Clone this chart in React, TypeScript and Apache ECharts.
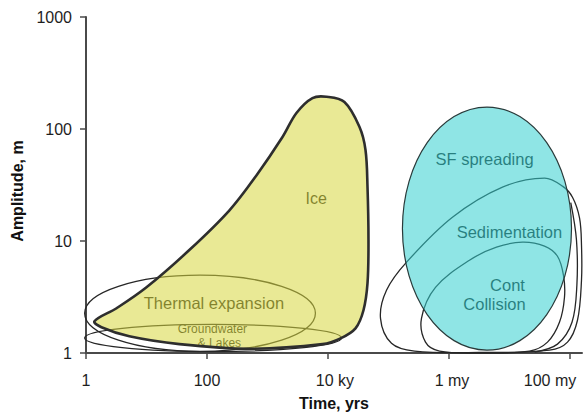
import React, { useEffect, useRef } from 'react';
import * as echarts from 'echarts';

// ---- axis ticks (raw units) ----
const xTickYears = [1, 100, 1e4, 1e6, 1e8];
const xTickLabels = ['1', '100', '10 ky', '1 my', '100 my'];
const yTickMetres = [1, 10, 100, 1000];
const yTickLabels = ['1', '10', '100', '1000'];
const xMaxYears = 1.58e8;
const yMaxMetres = 1000;

// ---- region outlines: [years, metres] ----
const iceOutline: [number, number][] = [
  [1.38, 1.92], [3.2, 2.51], [10, 3.86], [51, 8.3], [235, 18.8], [660, 38.7],
  [1770, 84.8], [3010, 139], [5540, 189], [9440, 194], [18700, 174], [33200, 104],
  [41700, 64.9], [45000, 30.3], [46700, 10.1], [45000, 4.2], [38600, 2.41],
  [28500, 1.66], [16100, 1.35], [8110, 1.2], [504, 1.09], [35, 1.2], [5.2, 1.41], [1.8, 1.7],
];
const sedimentationOutline: [number, number][] = [
  [3.79e7, 36.4], [7.52e7, 30.9], [1.1e8, 24.6], [1.44e8, 16.0], [1.55e8, 9.17],
  [1.55e8, 4.46], [1.33e8, 1.96], [9.1e7, 1.25], [4.59e7, 1.06], [3.19e6, 1.01],
  [2.69e5, 1.04], [1.12e5, 1.22], [7.38e4, 2.04], [9.27e4, 3.63], [1.99e5, 6.47],
  [1.14e6, 16.3], [7.66e6, 30.3],
];
const contCollisionOutline: [number, number][] = [
  [1.64e7, 9.76], [3.79e7, 9.0], [6.21e7, 7.31], [7.81e7, 4.94], [8.11e7, 3.15],
  [6.7e7, 1.88], [4.25e7, 1.25], [2.14e7, 1.04], [3.19e6, 1.0], [6.97e5, 1.04],
  [4.09e5, 1.25], [3.51e5, 2.04], [5.98e5, 3.86], [2.18e6, 6.73], [6.1e6, 8.81],
];
const extraOutline: [number, number][] = [
  [1.03e8, 22.0], [1.28e8, 10.2], [1.3e8, 4.03], [1.08e8, 1.88], [6.21e7, 1.2], [2.6e7, 1.02],
];

// ellipses: [yearsMin, yearsMax, metresMin, metresMax]
const thermalEllipse = [0.95, 6200, 1.035, 4.95];
const groundwaterEllipse = [0.95, 16700, 1.03, 1.8];
const sfSpreadingEllipse = [1.7e5, 1.06e8, 1.06, 157];

// labels: text, years, metres
const regionLabelTexts = ['Ice', 'Thermal expansion', '{a|Groundwater}\n{b|& Lakes}', 'SF spreading', 'Sedimentation', 'Cont', 'Collision'];
const regionLabelYears = [6400, 130, 123, 3.87e6, 9.98e6, 9.27e6, 5.65e6];
const regionLabelMetres = [24.1, 2.78, 1.425, 53.8, 12.0, 4.03, 2.72];
const regionLabelSizes = [16, 16.5, 12, 16.5, 16.5, 16.5, 16.5];

// style
const FONT = '"Liberation Sans", Arial, Helvetica, sans-serif';
const AXIS_COLOR = '#4a4a4a';
const LINE_COLOR = '#262626';
const ICE_FILL = 'rgba(215,215,62,0.55)';
const SF_FILL = 'rgba(51,208,208,0.55)';
const xLabelShift = [0, 0, 7, 3, -20];

const lg = Math.log10;

function pts(api: any, arr: [number, number][]) {
  return arr.map((p) => api.coord([lg(p[0]), lg(p[1])]));
}
function ell(api: any, e: number[]) {
  const a = api.coord([lg(e[0]), lg(e[2])]);
  const b = api.coord([lg(e[1]), lg(e[3])]);
  return { cx: (a[0] + b[0]) / 2, cy: (a[1] + b[1]) / 2, rx: Math.abs(b[0] - a[0]) / 2, ry: Math.abs(b[1] - a[1]) / 2 };
}

export default function App() {
  const ref = useRef<HTMLDivElement>(null);
  useEffect(() => {
    if (!ref.current) return;
    const chart = echarts.init(ref.current, undefined, { renderer: 'svg' });
    const xTickExp = xTickYears.map(lg);
    const yTickExp = yTickMetres.map(lg);
    const rich: any = {};
    xLabelShift.forEach((s, i) => {
      rich['n' + i] = {
        fontSize: 16,
        fontFamily: FONT,
        color: '#1e1e1e',
        padding: s >= 0 ? [0, 0, 0, 2 * s] : [0, -2 * s, 0, 0],
      };
    });
    const idx = (arr: number[], v: number) => arr.findIndex((t) => Math.abs(t - v) < 1e-6);
    const lineStyle = { fill: 'none', stroke: LINE_COLOR, lineWidth: 1.3 };

    const option: any = {
      animation: false,
      grid: { left: 86, right: 1, top: 17, bottom: 64, containLabel: false, outerBoundsMode: 'none' },
      xAxis: {
        type: 'value',
        min: 0,
        max: lg(xMaxYears),
        interval: 2,
        splitLine: { show: false },
        axisLine: { show: true, lineStyle: { color: AXIS_COLOR, width: 2 } },
        axisTick: { show: true, length: 6, customValues: xTickExp, lineStyle: { color: AXIS_COLOR, width: 1.5 } },
        axisLabel: {
          customValues: xTickExp,
          margin: 19,
          fontSize: 16,
          fontFamily: FONT,
          color: '#1e1e1e',
          formatter: (v: number) => {
            const i = idx(xTickExp, v);
            return i < 0 ? '' : `{n${i}|${xTickLabels[i]}}`;
          },
          rich,
        },
        name: 'Time, yrs',
        nameLocation: 'middle',
        nameGap: 42,
        nameTextStyle: { fontWeight: 'bold', fontSize: 16, fontFamily: FONT, color: '#111' },
      },
      yAxis: {
        type: 'value',
        min: 0,
        max: lg(yMaxMetres),
        interval: 1,
        splitLine: { show: false },
        axisLine: { show: true, lineStyle: { color: AXIS_COLOR, width: 2 } },
        axisTick: { show: true, length: 6, lineStyle: { color: AXIS_COLOR, width: 1.5 } },
        axisLabel: {
          margin: 14,
          fontSize: 16,
          fontFamily: FONT,
          color: '#1e1e1e',
          formatter: (v: number) => {
            const i = idx(yTickExp, v);
            return i < 0 ? '' : yTickLabels[i];
          },
        },
        name: 'Amplitude, m',
        nameLocation: 'middle',
        nameGap: 56,
        nameTextStyle: { fontWeight: 'bold', fontSize: 16, fontFamily: FONT, color: '#111', padding: [0, 12, 0, 0] },
      },
      series: [
        {
          type: 'custom',
          name: 'under',
          coordinateSystem: 'cartesian2d',
          data: [[0, 0]],
          renderItem: (_p: any, api: any) => {
            const children: any[] = [
              { type: 'ellipse', shape: ell(api, thermalEllipse), style: lineStyle },
              { type: 'ellipse', shape: ell(api, groundwaterEllipse), style: lineStyle },
              { type: 'polygon', shape: { points: pts(api, sedimentationOutline), smooth: 0.35 }, style: lineStyle },
              { type: 'polygon', shape: { points: pts(api, contCollisionOutline), smooth: 0.35 }, style: lineStyle },
              { type: 'polyline', shape: { points: pts(api, extraOutline), smooth: 0.35 }, style: lineStyle },
            ];
            regionLabelTexts.forEach((t, i) => {
              const c = api.coord([lg(regionLabelYears[i]), lg(regionLabelMetres[i])]);
              const fs = regionLabelSizes[i];
              children.push({
                type: 'text',
                x: c[0],
                y: c[1],
                style: {
                  text: t,
                  fill: '#1c1c1c',
                  fontSize: fs,
                  fontFamily: FONT,
                  align: 'center',
                  verticalAlign: 'middle',
                  textAlign: 'center',
                  textVerticalAlign: 'middle',
                  rich: {
                    a: { fontSize: fs, fontFamily: FONT, fill: '#1c1c1c', lineHeight: 13.5 },
                    b: { fontSize: fs, fontFamily: FONT, fill: '#1c1c1c', lineHeight: 13.5, padding: [0, 0, 0, 14] },
                  },
                },
              });
            });
            return { type: 'group', children };
          },
        },
        {
          type: 'custom',
          name: 'fills',
          coordinateSystem: 'cartesian2d',
          data: [[0, 0]],
          renderItem: (_p: any, api: any) => ({
            type: 'group',
            children: [
              { type: 'polygon', shape: { points: pts(api, iceOutline), smooth: 0.35 }, style: { fill: ICE_FILL, stroke: 'none' } },
              { type: 'ellipse', shape: ell(api, sfSpreadingEllipse), style: { fill: SF_FILL, stroke: 'none' } },
            ],
          }),
        },
        {
          type: 'custom',
          name: 'top',
          coordinateSystem: 'cartesian2d',
          data: [[0, 0]],
          renderItem: (_p: any, api: any) => ({
            type: 'group',
            children: [
              { type: 'polygon', shape: { points: pts(api, iceOutline), smooth: 0.35 }, style: { fill: 'none', stroke: '#2e2e2e', lineWidth: 2.6 } },
              { type: 'ellipse', shape: ell(api, sfSpreadingEllipse), style: { fill: 'none', stroke: '#2a3a3a', lineWidth: 1.2 } },
            ],
          }),
        },
      ],
    };
    chart.setOption(option);
    return () => chart.dispose();
  }, []);
  return <div ref={ref} style={{ width: 583, height: 417, position: 'absolute', left: 0, top: 0 }} />;
}
